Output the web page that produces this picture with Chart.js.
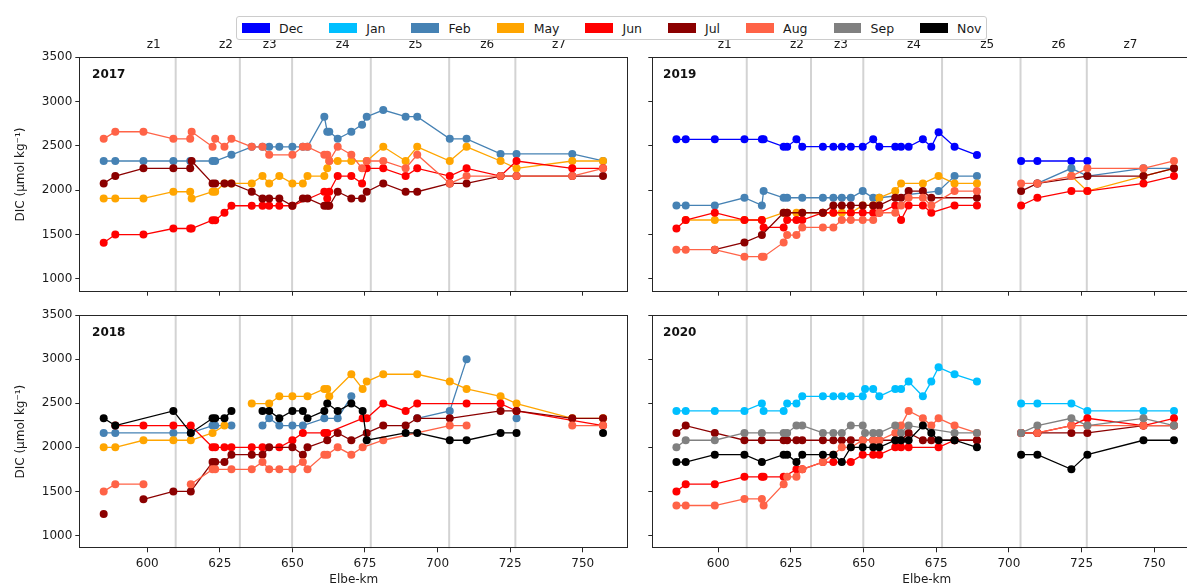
<!DOCTYPE html>
<html>
<head>
<meta charset="utf-8">
<title>DIC along the Elbe</title>
<script src="https://cdn.jsdelivr.net/npm/chart.js@4.4.1/dist/chart.umd.min.js"></script>
<style>
  html, body { margin: 0; padding: 0; background: #fff; }
  #fig { position: relative; width: 1187px; height: 586px; overflow: hidden; background: #fff;
         font-family: "DejaVu Sans", sans-serif; }
  #fig canvas { position: absolute; }
  #legend { position: absolute; left: 236px; top: 16px; height: 24px; box-sizing: border-box;
            border: 1px solid #cccccc; border-radius: 3px; background: #fff; z-index: 2;
            display: flex; align-items: center; padding: 0 5px; font-size: 12.5px; color: #1a1a1a; }
  #legend .item { display: flex; align-items: center; margin-right: 26px; }
  #legend .item:last-child { margin-right: 0; }
  #legend .swatch { width: 27.5px; height: 10px; margin-right: 9.5px; }
</style>
</head>
<body>
<div id="fig">
  <div id="legend"></div>
  <canvas id="p2017" width="640" height="270" style="left:0px;top:30px"></canvas>
  <canvas id="p2019" width="610" height="270" style="left:600px;top:30px"></canvas>
  <canvas id="p2018" width="640" height="286" style="left:0px;top:300px"></canvas>
  <canvas id="p2020" width="610" height="286" style="left:600px;top:300px"></canvas>
</div>
<script>
// ---- axes, ticks, zones -------------------------------------------------
const yTicks = [1000, 1500, 2000, 2500, 3000, 3500];
const xTicks = [600, 625, 650, 675, 700, 725, 750];
const zoneNames = ['z1', 'z2', 'z3', 'z4', 'z5', 'z6', 'z7'];
const zoneLabelKm = [602.2, 627.1, 642.2, 667.3, 692.5, 717.1, 741.8];
const zoneBoundaryKm = [609.8, 631.9, 649.9, 677.0, 704.0, 726.8];

// ---- legend months ------------------------------------------------------
const months = ['Dec', 'Jan', 'Feb', 'May', 'Jun', 'Jul', 'Aug', 'Sep', 'Nov'];
const monthColor = {
  Dec: '#0000ff', Jan: '#00bfff', Feb: '#4682b4', May: '#ffa500', Jun: '#ff0000',
  Jul: '#8b0000', Aug: '#ff6347', Sep: '#808080', Nov: '#000000'
};

const na = null;   // station not sampled on that cruise
const brk = NaN;   // line interrupted at that station

// ---- 2017 (DIC, µmol/kg) -----------------------------------------------
const km2017 = [585, 589, 598.7, 609, 614.8, 615.3, 622.5, 623.4, 626.6, 629, 636, 639.7, 642, 645.5, 650, 653.6, 655.2,
                661, 662, 662.7, 665.6, 670.3, 674, 675.6, 681.3, 689, 693, 704.2, 710, 721.7, 727.2, 746.4, 757];
const feb2017 = [2330, 2330, 2330, 2330, 2330, na, 2330, 2330, na, 2400, 2490, 2490, 2490, 2490, 2490, 2490, 2490,
                 2830, 2660, 2660, 2580, 2660, 2740, 2830, 2905, 2830, 2830, 2580, 2580, 2410, 2410, 2410, 2330];
const may2017 = [1908, 1908, 1908, 1983, 1983, 1908, 1983, 1983, 2077, 2077, 2077, 2160, 2077, 2160, 2077, 2077, 2160,
                 2160, 2247, 2330, 2330, 2330, na, 2330, 2490, 2330, 2490, 2330, 2490, 2330, 2247, 2330, 2330];
const jun2017 = [1408, 1500, 1500, 1568, 1568, 1568, 1662, 1662, 1746, 1825, 1825, 1825, 1825, 1825, 1825, na, na,
                 1983, 1908, 1983, 2160, 2160, 2077, 2247, 2247, 2160, 2247, 2160, 2247, 2160, 2330, 2247, 2247];
const jul2017 = [2077, 2160, 2247, 2247, 2247, 2330, 2077, 2077, 2077, 2077, 1983, 1908, 1908, 1908, 1825, 1908, 1908,
                 1825, 1825, 1825, 1983, 1908, 1908, 1983, 2077, 1983, 1983, 2077, 2077, 2160, 2160, 2160, 2160];
const aug2017 = [2580, 2660, 2660, 2580, 2580, 2660, 2490, 2580, 2490, 2580, 2490, 2490, 2400, na, 2400, 2490, 2490,
                 2400, 2400, 2330, 2490, 2400, 2247, 2330, 2330, 2247, 2400, 2077, 2160, 2160, 2160, 2160, 2247];

// ---- 2018 ---------------------------------------------------------------
const km2018 = [585, 589, 598.7, 609, 615, 622.5, 623.4, 626.6, 629, 636, 639.7, 642, 645.5, 650, 653.6, 655.2,
                661, 662, 662.7, 665.6, 670.3, 674.2, 675.6, 681.3, 689, 693, 704.2, 710, 721.7, 727.2, 746.4, 757];
const feb2018 = [2163, 2163, na, 2163, 2163, 2246, 2246, na, 2246, brk, 2246, 2329, 2246, 2246, 2246, na,
                 2329, na, na, 2329, 2578, brk, na, na, na, 2329, 2412, 2997, brk, 2329, na, na];
const may2018 = [2000, 2000, 2080, 2080, 2080, 2163, na, 2246, brk, 2496, na, 2496, 2578, 2578, na, 2578,
                 2662, 2662, 2578, na, 2828, 2662, 2745, 2828, na, 2828, 2745, 2662, 2578, 2496, 2329, 2329];
const jun2018 = [na, 2246, 2246, 2246, 2246, 2000, 2000, 2000, 2000, 2000, 2000, na, 2000, 2080, 2163, na,
                 2163, 2163, na, na, na, 2329, 2329, 2496, 2412, 2496, na, 2496, 2496, 2412, na, 2246];
const jul2018 = [1245, brk, 1411, 1500, 1500, 1833, 1833, 1833, 1917, 1917, 1917, 2000, na, 2000, 1917, 2000,
                 na, 2080, na, 2163, 2080, na, 2163, 2246, 2246, 2329, 2329, na, 2412, 2412, 2329, 2329];
const aug2018 = [1500, 1582, 1582, brk, 1582, 1750, 1750, na, 1750, 1750, 1833, 1750, 1750, 1750, 1833, 1750,
                 1917, 1917, na, 2000, 1917, 2000, na, 2080, na, na, 2246, 2246, brk, na, 2246, 2246];
const nov2018 = [2329, 2246, na, 2412, 2163, 2329, 2329, 2329, 2412, brk, 2412, 2412, 2329, 2412, 2412, 2329,
                 2412, 2496, na, 2412, 2496, 2412, 2080, na, 2163, 2163, 2080, 2080, 2163, 2163, brk, 2163];

// ---- 2019 (no stations between km 689 and 704) -------------------------
const km2019 = [585.6, 588.8, 598.8, 609, 615, 615.6, 622.5, 623.7, 626.9, 628.9, 636, 639.6, 642.5, 645.6, 649.7,
                653.3, 655.4, 660.9, 662.9, 665.5, 670.4, 673.3, 675.8, 681.3, 689, 704.2, 709.8, 721.5, 727, 746.3, 756.8];
const dec2019 = [2574, 2574, 2574, 2574, 2574, 2574, 2491, 2491, 2574, 2491, 2491, 2491, 2491, 2491, 2491,
                 2574, 2491, 2491, 2491, 2491, 2574, 2491, 2653, 2491, 2397, 2330, 2330, 2330, 2330, na, na];
const feb2019 = [1829, 1829, 1829, 1915, 1829, 1990, 1915, 1915, na, 1915, 1915, 1915, 1915, 1915, 1990,
                 1915, 1915, na, na, na, na, na, 1990, 2160, 2160, na, 2077, 2247, 2160, 2247, 2247];
const may2019 = [na, 1664, 1664, 1664, 1664, na, 1746, 1746, 1746, 1746, 1746, 1746, 1746, 1746, 1829,
                 1829, 1915, 1990, 2077, na, 2077, na, 2160, 2077, 2077, na, na, 2160, 1990, 2160, 2247];
const jun2019 = [1569, 1664, 1746, 1664, 1664, 1580, 1580, 1664, 1664, 1664, 1746, 1746, na, 1746, 1746,
                 1746, 1746, 1829, 1664, 1829, 1829, 1746, na, 1829, 1829, 1829, 1915, 1990, 1990, 2077, 2160];
const jul2019 = [na, na, 1329, 1411, 1494, na, 1746, 1746, na, 1746, 1746, 1829, 1829, 1829, 1829,
                 1829, 1829, 1915, 1915, 1990, 1990, 1915, na, na, 1915, 1990, 2077, na, 2160, 2160, 2247];
const aug2019 = [1329, 1329, 1329, 1250, 1250, 1250, 1411, 1494, 1494, 1580, 1580, 1580, 1664, 1664, 1664,
                 1664, 1746, 1746, 1829, 1915, 1915, 1829, na, 1990, 1990, 2077, 2077, 2160, 2247, 2247, 2330];

// ---- 2020 (no stations between km 689 and 704) -------------------------
const km2020 = [585.6, 588.8, 598.8, 609, 615, 615.6, 622.5, 623.7, 626.9, 628.9, 636, 639.6, 642.5, 645.6, 649.7, 650.5,
                653.3, 655.4, 660.9, 662.9, 665.5, 670.4, 673.3, 675.8, 681.3, 689, 704.2, 709.8, 721.5, 727, 746.3, 756.8];
const jan2020 = [2412, 2412, 2412, 2412, 2496, 2412, 2412, 2496, 2496, 2578, 2578, 2578, 2578, 2578, 2578, 2662,
                 2662, 2578, 2662, 2662, 2745, 2578, 2745, 2907, 2828, 2745, 2496, 2496, 2496, 2412, 2412, 2412];
const jun2020 = [1500, 1582, 1582, 1665, 1665, 1665, 1665, na, 1750, 1750, 1833, 1833, na, 1833, 1917, na,
                 1917, 1917, 2000, 2000, 2000, na, na, 2000, 2080, 2080, 2163, 2163, 2246, 2329, 2246, 2329];
const jul2020 = [2163, 2246, 2163, 2080, 2080, na, 2080, 2080, 2080, 2080, 2080, 2080, 2080, 2080, 2080, na,
                 2080, 2080, 2080, 2080, 2163, 2080, 2080, na, 2080, 2080, 2163, 2163, 2163, 2163, 2246, 2246];
const aug2020 = [1340, 1340, 1340, 1415, 1415, 1340, 1582, 1665, 1665, 1750, 1833, 1917, 2000, 2000, 2080, na,
                 2080, 2080, 2163, 2246, 2412, 2329, 2246, 2329, 2246, 2163, 2163, 2163, 2246, 2246, 2246, 2246];
const sep2020 = [2000, 2080, 2080, 2163, 2163, na, 2163, 2163, 2246, 2246, 2163, 2163, 2163, 2246, 2246, 2163,
                 2163, 2163, 2246, 2163, 2246, na, na, na, 2163, 2163, 2163, 2246, 2329, 2246, 2329, 2246];
const nov2020 = [1833, 1833, 1917, 1917, 1833, na, 1917, 1917, 1833, 1917, 1917, 1917, 1833, 2000, 2000, na,
                 2000, 2000, 2080, 2080, 2080, 2246, 2163, 2080, 2080, 2000, 1917, 1917, 1750, 1917, 2080, 2080];

// ---- panels ---------------------------------------------------------------
const panels = [
  { id: 'p2017', year: '2017', km: km2017, series: { Feb: feb2017, May: may2017, Jun: jun2017, Jul: jul2017, Aug: aug2017 } },
  { id: 'p2019', year: '2019', km: km2019, gapKm: 697, series: { Dec: dec2019, Feb: feb2019, May: may2019, Jun: jun2019, Jul: jul2019, Aug: aug2019 } },
  { id: 'p2018', year: '2018', km: km2018, series: { Feb: feb2018, May: may2018, Jun: jun2018, Jul: jul2018, Aug: aug2018, Nov: nov2018 } },
  { id: 'p2020', year: '2020', km: km2020, gapKm: 697, series: { Jan: jan2020, Jun: jun2020, Jul: jul2020, Aug: aug2020, Sep: sep2020, Nov: nov2020 } }
];

// page geometry of each axes box: canvas placement and plot rectangle [l, t, r, b]
const frames = {
  p2017: { left: 0,   top: 30,  width: 640, height: 270, plot: [79.3, 57.3, 628.3, 291.7], xr: [576.6, 765.7], yLabels: true,  xLabels: false, zones: true },
  p2019: { left: 600, top: 30,  width: 610, height: 270, plot: [652.3, 57.3, 1201.3, 291.7], xr: [577.3, 766.2], yLabels: false, xLabels: false, zones: true },
  p2018: { left: 0,   top: 300, width: 640, height: 286, plot: [79.3, 315, 628.3, 548.3], xr: [576.6, 765.7], yLabels: true,  xLabels: true,  zones: false },
  p2020: { left: 600, top: 300, width: 610, height: 286, plot: [652.3, 315, 1201.3, 548.3], xr: [577.3, 766.2], yLabels: false, xLabels: true,  zones: false }
};
const yRange = [855, 3500];
const yearLabelAt = { x: 581, y: 3300 };

const FONT = { family: '"DejaVu Sans", sans-serif', size: 12 };
const TEXT = '#1a1a1a';
const AXIS = '#262626';

// legend
const legendEl = document.getElementById('legend');
months.forEach(m => {
  const it = document.createElement('div');
  it.className = 'item';
  const sw = document.createElement('span');
  sw.className = 'swatch';
  sw.style.background = monthColor[m];
  const tx = document.createElement('span');
  tx.textContent = m;
  it.appendChild(sw); it.appendChild(tx);
  legendEl.appendChild(it);
});

function buildPoints(km, values, gapKm) {
  const pts = [];
  km.forEach((x, i) => {
    if (gapKm !== undefined && i > 0 && km[i - 1] < gapKm && x > gapKm) pts.push({ x: gapKm, y: null });
    const v = values[i];
    if (v === null) return;
    pts.push({ x: x, y: Number.isNaN(v) ? null : v });
  });
  return pts;
}

// zone boundaries, frame and year tag
const panelDecor = {
  id: 'panelDecor',
  beforeDatasetsDraw(chart) {
    const { ctx, chartArea: a, scales: { x } } = chart;
    ctx.save();
    ctx.strokeStyle = '#d3d3d3';
    ctx.lineWidth = 2;
    zoneBoundaryKm.forEach(k => {
      const px = x.getPixelForValue(k);
      ctx.beginPath(); ctx.moveTo(px, a.top); ctx.lineTo(px, a.bottom); ctx.stroke();
    });
    ctx.restore();
  },
  afterDraw(chart, args, opts) {
    const { ctx, chartArea: a, scales: { x, y } } = chart;
    ctx.save();
    ctx.strokeStyle = AXIS;
    ctx.lineWidth = 1;
    const l = Math.round(a.left) + 0.5, t = Math.round(a.top) + 0.5;
    const r = Math.round(a.right) - 0.5, b = Math.round(a.bottom) - 0.5;
    ctx.strokeRect(l, t, r - l, b - t);
    ctx.fillStyle = '#111';
    ctx.font = 'bold 12px "DejaVu Sans", sans-serif';
    ctx.textAlign = 'left';
    ctx.textBaseline = 'middle';
    ctx.fillText(opts.year, x.getPixelForValue(yearLabelAt.x), y.getPixelForValue(yearLabelAt.y));
    ctx.restore();
  }
};

panels.forEach(p => {
  const f = frames[p.id];
  const [pl, pt, pr, pb] = f.plot;
  const yW = pl - f.left;
  const topH = pt - f.top;
  const botH = f.top + f.height - pb;
  const padR = f.left + f.width - pr;
  const noPad = s => { s.paddingLeft = 0; s.paddingRight = 0; s.paddingTop = 0; s.paddingBottom = 0; };

  const names = Object.keys(p.series);
  const datasets = names.map((m, i) => ({
    label: m,
    data: buildPoints(p.km, p.series[m], p.gapKm),
    xAxisID: 'x', yAxisID: 'y',
    borderColor: monthColor[m],
    backgroundColor: monthColor[m],
    pointBackgroundColor: monthColor[m],
    pointBorderColor: monthColor[m],
    pointBorderWidth: 0,
    pointRadius: 4,
    borderWidth: 1.3,
    tension: 0,
    spanGaps: false,
    order: names.length - i   // later cruises drawn on top
  }));

  const scales = {
    x: {
      type: 'linear', position: 'bottom', min: f.xr[0], max: f.xr[1], bounds: 'data',
      afterBuildTicks: s => { s.ticks = xTicks.map(v => ({ value: v })); },
      ticks: { display: f.xLabels, font: FONT, color: TEXT, padding: 4, maxRotation: 0, autoSkip: false,
               callback: v => String(v) },
      grid: { drawOnChartArea: false, drawTicks: true, tickLength: 4, color: AXIS },
      border: { display: false },
      title: { display: f.xLabels, text: 'Elbe-km', font: FONT, color: TEXT, padding: { top: 0, bottom: -1 } },
      afterFit: s => { s.height = botH; noPad(s); }
    },
    y: {
      type: 'linear', position: 'left', min: yRange[0], max: yRange[1], bounds: 'data',
      afterBuildTicks: s => { s.ticks = yTicks.map(v => ({ value: v })); },
      ticks: { display: f.yLabels, font: FONT, color: TEXT, padding: 3, callback: v => String(v) },
      grid: { drawOnChartArea: false, drawTicks: true, tickLength: 4, color: AXIS },
      border: { display: false },
      title: { display: f.yLabels, text: 'DIC (µmol kg⁻¹)', font: FONT, color: TEXT, padding: { top: 13.2, bottom: 0 } },
      afterFit: s => { s.width = yW; noPad(s); }
    }
  };
  if (f.zones) {
    scales.zone = {
      type: 'linear', axis: 'x', position: 'top', min: f.xr[0], max: f.xr[1], bounds: 'data',
      afterBuildTicks: s => { s.ticks = zoneLabelKm.map(v => ({ value: v })); },
      ticks: { font: FONT, color: TEXT, padding: -3, autoSkip: false, maxRotation: 0,
               callback: (v, i) => zoneNames[i] },
      grid: { display: false },
      border: { display: false },
      afterFit: s => { s.height = topH; noPad(s); }
    };
  }

  new Chart(document.getElementById(p.id), {
    type: 'line',
    data: { datasets: datasets },
    options: {
      responsive: false,
      animation: false,
      devicePixelRatio: 1,
      events: [],
      layout: { padding: { left: 0, right: padR, top: f.zones ? 0 : topH, bottom: 0 } },
      plugins: { legend: { display: false }, tooltip: { enabled: false }, panelDecor: { year: p.year } },
      scales: scales
    },
    plugins: [panelDecor]
  });
});
</script>
</body>
</html>
